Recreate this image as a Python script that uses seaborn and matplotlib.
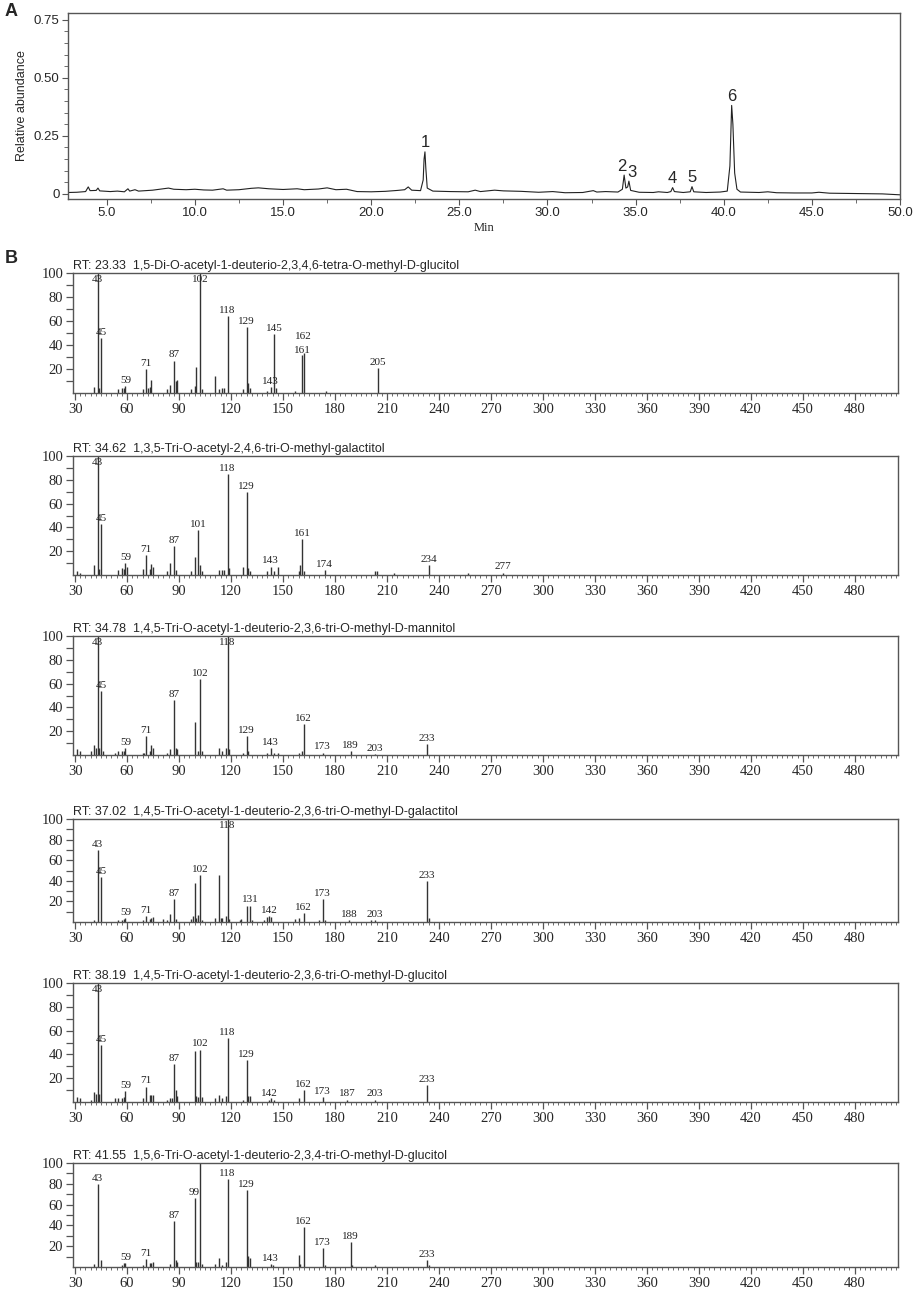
import numpy as np
import pandas as pd
import matplotlib
matplotlib.use('Agg')
import matplotlib.pyplot as plt
from matplotlib.ticker import MultipleLocator
import seaborn as sns

# ---------------------------------------------------------------
# Panel A: total ion chromatogram
# ---------------------------------------------------------------
CHROM_MIN = [2.8, 3.3, 3.8, 3.95, 4.05, 4.4, 4.5, 4.6, 5.2, 5.6,
             6.0, 6.2, 6.3, 6.6, 6.8, 7.2, 7.6, 8.2, 8.5, 8.8,
             9.5, 10.0, 10.5, 11.0, 11.6, 11.8, 12.5, 13.2, 13.6, 14.2,
             15.0, 15.8, 16.2, 17.0, 17.5, 18.0, 18.6, 19.2, 20.0, 20.8,
             21.5, 21.9, 22.1, 22.3, 22.8, 22.95, 23.0, 23.05, 23.1, 23.18,
             23.5, 24.5, 25.5, 25.9, 26.2, 27.0, 27.5, 28.5, 29.5, 30.3,
             31.0, 32.0, 32.6, 32.8, 33.3, 34.0, 34.25, 34.35, 34.45, 34.55,
             34.62, 34.72, 35.2, 36.0, 36.3, 36.8, 37.0, 37.1, 37.2, 37.7,
             38.1, 38.2, 38.3, 39.0, 39.8, 40.2, 40.35, 40.45, 40.52, 40.62,
             40.75, 40.95, 42.0, 42.5, 43.0, 44.0, 45.0, 45.4, 46.0, 47.0,
             48.0, 49.0, 50.0]
CHROM_ABUND = [0.006, 0.007, 0.010, 0.030, 0.014, 0.015, 0.025, 0.013, 0.010, 0.012,
               0.009, 0.022, 0.012, 0.018, 0.012, 0.014, 0.016, 0.022, 0.025, 0.020,
               0.018, 0.020, 0.017, 0.016, 0.022, 0.016, 0.018, 0.024, 0.026, 0.022,
               0.019, 0.022, 0.018, 0.021, 0.026, 0.018, 0.020, 0.010, 0.009, 0.011,
               0.015, 0.018, 0.030, 0.016, 0.014, 0.060, 0.150, 0.181, 0.110, 0.025,
               0.012, 0.010, 0.009, 0.016, 0.010, 0.016, 0.013, 0.011, 0.007, 0.010,
               0.005, 0.006, 0.014, 0.008, 0.010, 0.008, 0.020, 0.081, 0.025, 0.030,
               0.055, 0.015, 0.007, 0.006, 0.009, 0.006, 0.010, 0.027, 0.010, 0.006,
               0.009, 0.031, 0.009, 0.006, 0.008, 0.012, 0.120, 0.381, 0.300, 0.090,
               0.020, 0.008, 0.006, 0.009, 0.005, 0.004, 0.004, 0.007, 0.003, 0.002,
               0.001, 0.000, -0.004]
PEAK_NO = ['1', '2', '3', '4', '5', '6']
PEAK_RT = [23.05, 34.35, 34.62, 37.1, 38.2, 40.45]
PEAK_TOP = [0.181, 0.081, 0.055, 0.027, 0.031, 0.381]

# ---------------------------------------------------------------
# Panel B: EI mass spectra (m/z, relative intensity %)
# ---------------------------------------------------------------
TITLES = [
    'RT: 23.33  1,5-Di-O-acetyl-1-deuterio-2,3,4,6-tetra-O-methyl-D-glucitol',
    'RT: 34.62  1,3,5-Tri-O-acetyl-2,4,6-tri-O-methyl-galactitol',
    'RT: 34.78  1,4,5-Tri-O-acetyl-1-deuterio-2,3,6-tri-O-methyl-D-mannitol',
    'RT: 37.02  1,4,5-Tri-O-acetyl-1-deuterio-2,3,6-tri-O-methyl-D-galactitol',
    'RT: 38.19  1,4,5-Tri-O-acetyl-1-deuterio-2,3,6-tri-O-methyl-D-glucitol',
    'RT: 41.55  1,5,6-Tri-O-acetyl-1-deuterio-2,3,4-tri-O-methyl-D-glucitol',
]

S1_MZ = [41, 43, 44, 45, 55, 57, 58, 59, 69, 71, 72, 73, 74, 83, 85, 87, 88, 89, 97, 99,
         100, 102, 103, 111, 113, 115, 116, 118, 127, 129, 130, 131, 141, 143, 145, 146,
         157, 161, 162, 175, 205]
S1_INT = [5, 100, 4, 46, 3, 4, 4, 6, 3, 20, 4, 5, 11, 3, 7, 27, 10, 11, 3, 6,
          22, 100, 3, 14, 3, 4, 4, 64, 3, 55, 8, 4, 2, 5, 49, 4,
          2, 32, 33, 2, 21]
S1_LAB = [43, 45, 59, 71, 87, 102, 118, 129, 143, 145, 161, 162, 205]

S2_MZ = [31, 33, 41, 43, 44, 45, 55, 57, 58, 59, 60, 69, 71, 73, 74, 75, 83, 85, 87, 88,
         97, 99, 101, 102, 103, 113, 115, 116, 118, 119, 127, 129, 130, 131, 141, 143, 145,
         147, 159, 160, 161, 162, 174, 203, 204, 214, 234, 257, 277]
S2_INT = [3, 2, 8, 100, 5, 43, 4, 6, 5, 10, 7, 5, 17, 5, 9, 7, 3, 10, 24, 4,
          3, 15, 38, 8, 3, 4, 4, 4, 85, 6, 7, 70, 6, 3, 3, 7, 3,
          7, 3, 8, 30, 3, 4, 3, 3, 2, 8, 2, 2]
S2_LAB = [43, 45, 59, 71, 87, 101, 118, 129, 143, 161, 174, 234, 277]

S3_MZ = [31, 33, 39, 41, 42, 43, 44, 45, 46, 53, 55, 57, 58, 59, 69, 70, 71, 73, 74, 75,
         83, 85, 87, 88, 89, 99, 101, 102, 103, 113, 115, 117, 118, 119, 127, 129, 130,
         141, 143, 145, 147, 159, 161, 162, 173, 189, 203, 233]
S3_INT = [5, 3, 3, 8, 6, 100, 6, 54, 3, 2, 3, 3, 3, 6, 2, 2, 16, 3, 8, 6,
          2, 5, 46, 6, 5, 28, 3, 64, 3, 6, 3, 6, 100, 5, 2, 16, 3,
          2, 6, 2, 2, 2, 3, 26, 2, 3, 1, 9]
S3_LAB = [43, 45, 59, 71, 87, 102, 118, 129, 143, 162, 173, 189, 203, 233]

S4_MZ = [41, 43, 45, 55, 57, 58, 59, 69, 71, 73, 74, 75, 81, 83, 85, 87, 88, 97, 98, 99,
         100, 101, 102, 103, 111, 113, 114, 115, 117, 118, 119, 125, 126, 129, 131, 132,
         139, 141, 142, 143, 157, 159, 162, 171, 173, 174, 188, 201, 203, 233, 234]
S4_INT = [2, 70, 44, 2, 2, 3, 4, 2, 6, 3, 4, 5, 3, 2, 8, 22, 3, 3, 6, 38,
          4, 7, 46, 2, 4, 46, 4, 4, 6, 100, 3, 2, 3, 16, 16, 2,
          2, 5, 6, 5, 3, 4, 9, 2, 22, 2, 2, 2, 2, 40, 4]
S4_LAB = [43, 45, 59, 71, 87, 102, 118, 131, 142, 162, 173, 188, 203, 233]

S5_MZ = [31, 33, 39, 41, 42, 43, 44, 45, 53, 55, 57, 58, 59, 69, 71, 73, 74, 75, 83, 85,
         86, 87, 88, 89, 99, 100, 101, 102, 103, 111, 113, 115, 117, 118, 127, 129, 130,
         131, 142, 143, 145, 159, 162, 173, 187, 203, 233]
S5_INT = [4, 3, 2, 8, 7, 100, 7, 48, 3, 3, 3, 4, 9, 3, 13, 6, 6, 6, 2, 3,
          3, 32, 10, 5, 43, 5, 4, 44, 4, 3, 6, 3, 5, 54, 2, 35, 5,
          5, 2, 3, 2, 3, 10, 4, 2, 2, 14]
S5_LAB = [43, 45, 59, 71, 87, 102, 118, 129, 142, 162, 173, 187, 203, 233]

S6_MZ = [41, 43, 45, 57, 58, 59, 69, 71, 73, 74, 75, 85, 87, 88, 89, 99, 100, 101, 102,
         103, 111, 113, 115, 117, 118, 129, 130, 131, 143, 144, 159, 160, 162, 173, 174,
         189, 190, 203, 233, 234]
S6_INT = [3, 80, 7, 2, 4, 4, 2, 8, 4, 4, 5, 3, 44, 7, 5, 66, 5, 5, 100,
          3, 3, 9, 2, 5, 85, 74, 11, 9, 3, 2, 12, 3, 38, 18, 2,
          24, 2, 2, 7, 2]
S6_LAB = [43, 59, 71, 87, 99, 118, 129, 143, 162, 173, 189, 233]

SPECTRA = [(S1_MZ, S1_INT, S1_LAB), (S2_MZ, S2_INT, S2_LAB), (S3_MZ, S3_INT, S3_LAB),
           (S4_MZ, S4_INT, S4_LAB), (S5_MZ, S5_INT, S5_LAB), (S6_MZ, S6_INT, S6_LAB)]

# ---------------------------------------------------------------
# styling
# ---------------------------------------------------------------
sns.set_theme(style='ticks')
plt.rcParams['font.family'] = ['Liberation Sans', 'DejaVu Sans']
SERIF = ['Liberation Serif', 'DejaVu Serif']
EDGE = '#555555'
STEM = '#333333'

W, H = 913, 1290
fig = plt.figure(figsize=(W / 100, H / 100), dpi=100)


def box(left, top, right, bottom):
    # pixel box -> figure fraction
    return [left / W, 1 - bottom / H, (right - left) / W, (bottom - top) / H]


def style_spines(ax):
    for s in ax.spines.values():
        s.set_visible(True)
        s.set_color(EDGE)
        s.set_linewidth(1.0)


# ---------------------------------------------------------------
# Panel A
# ---------------------------------------------------------------
axA = fig.add_axes(box(68, 13, 900, 199))
chrom = pd.DataFrame({'Min': CHROM_MIN, 'Relative abundance': CHROM_ABUND})
sns.lineplot(data=chrom, x='Min', y='Relative abundance', ax=axA,
             color='#222222', linewidth=0.8, sort=True)
axA.set_xlim(2.8, 50.0)
axA.set_ylim(-0.022, 0.779)
xt = np.arange(5, 51, 5)
axA.set_xticks(xt)
axA.set_xticklabels([f'{v:.1f}' for v in xt], fontsize=9.5)
axA.xaxis.set_minor_locator(MultipleLocator(2.5))
axA.set_yticks([0, 0.25, 0.5, 0.75])
axA.set_yticklabels(['0', '0.25', '0.50', '0.75'], fontsize=9.5)
axA.yaxis.set_minor_locator(MultipleLocator(0.05))
axA.tick_params(which='major', length=4, width=0.8, color=EDGE, pad=2)
axA.tick_params(which='minor', length=3, width=0.6, color=EDGE)
axA.set_xlabel('Min', fontsize=9, family=SERIF, labelpad=2)
axA.set_ylabel('Relative abundance', fontsize=9, labelpad=4)
style_spines(axA)

for no, rt, top in zip(PEAK_NO, PEAK_RT, PEAK_TOP):
    dx, ha, dy = 0, 'center', 0.006
    if no == '2':
        dx, ha = 0.15, 'right'
    elif no == '3':
        dx, ha, dy = -0.1, 'left', 0.004
    axA.text(rt + dx, top + dy, no, ha=ha, va='bottom', fontsize=12)

fig.text(5 / W, 1 - 3 / H, 'A', fontsize=13, fontweight='bold', va='top')
fig.text(5 / W, 1 - 250 / H, 'B', fontsize=13, fontweight='bold', va='top')

# ---------------------------------------------------------------
# Panel B
# ---------------------------------------------------------------
SPEC_BOXES = [(273, 393), (456, 575), (636, 755), (819, 922), (983, 1102), (1163, 1267)]
LABEL_LIFT = {(0, 162): 9, (0, 161): -1}

for i, ((mz, inten, labs), title) in enumerate(zip(SPECTRA, TITLES)):
    top, bot = SPEC_BOXES[i]
    ax = fig.add_axes(box(73, top, 898, bot))
    ax.vlines(mz, 0, inten, colors=STEM, linewidth=1.0)
    ax.set_xlim(28.8, 505)
    ax.set_ylim(0, 100)
    ax.xaxis.set_major_locator(MultipleLocator(30))
    ax.xaxis.set_minor_locator(MultipleLocator(3))
    ax.set_yticks(range(10, 101, 10))
    ax.set_yticklabels(['' if v % 20 else str(v) for v in range(10, 101, 10)])
    for lab in ax.get_xticklabels() + ax.get_yticklabels():
        lab.set_family(SERIF)
        lab.set_fontsize(10.5)
    ax.tick_params(which='major', length=5, width=0.9, color=EDGE, pad=2)
    ax.tick_params(axis='x', which='minor', length=2.5, width=0.6, color=EDGE)
    style_spines(ax)
    ax.set_title(title, loc='left', fontsize=9, pad=3)

    lookup = dict(zip(mz, inten))
    for m in labs:
        h = lookup[m]
        if h >= 90:
            y, va = 98.5, 'top'
        else:
            y, va = h + 1 + LABEL_LIFT.get((i, m), 0), 'bottom'
        ax.text(m, y, str(m), ha='center', va=va, fontsize=8, family=SERIF,
                color='#222222')

fig.savefig('out.png', dpi=100)
